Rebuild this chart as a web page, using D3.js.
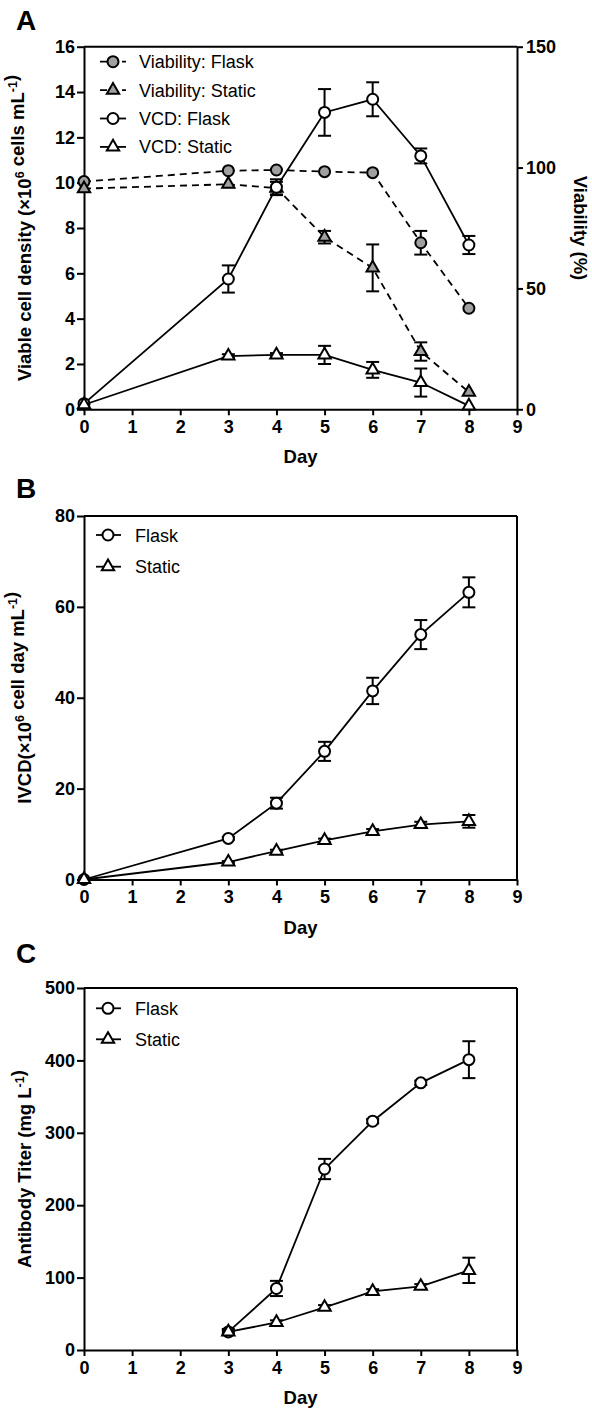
<!DOCTYPE html>
<html>
<head>
<meta charset="utf-8">
<script src="https://cdn.jsdelivr.net/npm/d3@7"></script>
<style>
  body { margin: 0; background: #fff; }
  svg text { font-family: "Liberation Sans", Arial, sans-serif; }
</style>
</head>
<body>
<svg id="fig" width="592" height="1410"></svg>
<script>
// ---- data ----
const days = [0, 3, 4, 5, 6, 7, 8];
const dayTicks = [0, 1, 2, 3, 4, 5, 6, 7, 8, 9];

// Panel A: viable cell density (x10^6 cells/mL) and viability (%)
const vcdFlask = [0.25, 5.75, 9.8, 13.1, 13.68, 11.18, 7.25];
const vcdFlaskErr = [0, 0.6, 0.35, 1.03, 0.75, 0.33, 0.4];
const vcdStatic = [0.2, 2.35, 2.4, 2.4, 1.74, 1.18, 0.15];
const vcdStaticErr = [0, 0.08, 0.08, 0.4, 0.35, 0.62, 0];
const viaFlask = [94.2, 98.7, 99.0, 98.3, 97.9, 68.9, 41.8];
const viaFlaskErr = [0, 0, 0, 0, 0, 4.9, 0];
const viaStatic = [91.3, 93.1, 91.5, 71.2, 58.5, 23.9, 7.1];
const viaStaticErr = [0, 0, 2.6, 2.6, 9.7, 3.8, 0];
const vcdTicks = [0, 2, 4, 6, 8, 10, 12, 14, 16];
const viaTicks = [0, 50, 100, 150];

// Panel B: integral of viable cell density
const ivcdFlask = [0, 9.05, 16.8, 28.2, 41.5, 53.9, 63.2];
const ivcdFlaskErr = [0, 0.3, 1.2, 2.1, 2.9, 3.2, 3.3];
const ivcdStatic = [0, 3.85, 6.25, 8.6, 10.6, 12.1, 12.8];
const ivcdStaticErr = [0, 0.2, 0.3, 0.4, 0.5, 0.6, 1.4];
const ivcdTicks = [0, 20, 40, 60, 80];

// Panel C: antibody titer (mg/L), measured from day 3
const titerDays = [3, 4, 5, 6, 7, 8];
const titerFlask = [25, 85, 250, 316, 369, 401];
const titerFlaskErr = [4, 10.5, 14, 3, 3, 25.5];
const titerStatic = [25, 38, 59, 81, 88, 110];
const titerStaticErr = [2, 3, 3, 3, 3, 17.5];
const titerTicks = [0, 100, 200, 300, 400, 500];

// ---- drawing ----
const svg = d3.select("#fig");
const X0 = 84, X1 = 517;
const x = d3.scaleLinear().domain([0, 9]).range([X0, X1]);
const GREY = "#a0a0a0";
const TICK_FONT = "18px";
const TITLE_FONT = "18.5px";

const circleSym = d3.symbol().type(d3.symbolCircle).size(Math.PI * 5.5 * 5.5);
const triSym = d3.symbol().type(d3.symbolTriangle).size(66);

function styleAxis(g) {
  g.select(".domain").attr("stroke", "#000").attr("stroke-width", 2);
  g.selectAll(".tick line").attr("stroke", "#000").attr("stroke-width", 2);
  g.selectAll(".tick text")
    .attr("fill", "#000")
    .style("font-size", TICK_FONT)
    .style("font-weight", "bold");
}

function titleText(sel, parts) {
  parts.forEach(p => {
    if (p.sup) {
      sel.append("tspan").attr("dy", -7).style("font-size", "12.5px").text(p.sup);
      sel.append("tspan").attr("dy", 7).text("");
    } else {
      sel.append("tspan").text(p.t);
    }
  });
}

function drawSeries(g, y, xs, vals, errs, sym, fill, dashed) {
  const pts = xs.map((d, i) => ({ d, v: vals[i], e: errs[i] }));
  const line = d3.line().x(p => x(p.d)).y(p => y(p.v));
  g.append("path")
    .datum(pts)
    .attr("d", line)
    .attr("fill", "none")
    .attr("stroke", "#000")
    .attr("stroke-width", 1.8)
    .attr("stroke-dasharray", dashed ? "7,5" : null);
  // error bars
  const eb = g.append("g").attr("stroke", "#000").attr("stroke-width", 2);
  pts.filter(p => p.e > 0).forEach(p => {
    const cx = x(p.d), yt = y(p.v + p.e), yb = y(p.v - p.e);
    eb.append("line").attr("x1", cx).attr("x2", cx).attr("y1", yt).attr("y2", yb);
    eb.append("line").attr("x1", cx - 6.5).attr("x2", cx + 6.5).attr("y1", yt).attr("y2", yt);
    eb.append("line").attr("x1", cx - 6.5).attr("x2", cx + 6.5).attr("y1", yb).attr("y2", yb);
  });
  // markers
  g.append("g").selectAll("path")
    .data(pts)
    .join("path")
    .attr("d", sym)
    .attr("transform", p => `translate(${x(p.d)},${y(p.v)})`)
    .attr("fill", fill)
    .attr("stroke", "#000")
    .attr("stroke-width", 2);
}

function drawLegend(g, items, mx, lx0, lx1, tx, y0, dy) {
  items.forEach((it, i) => {
    const yy = y0 + i * dy;
    g.append("line")
      .attr("x1", lx0).attr("x2", lx1).attr("y1", yy).attr("y2", yy)
      .attr("stroke", "#000").attr("stroke-width", 1.8)
      .attr("stroke-dasharray", it.dashed ? "7,4" : null);
    g.append("path").attr("d", it.sym)
      .attr("transform", `translate(${mx},${yy})`)
      .attr("fill", it.fill).attr("stroke", "#000").attr("stroke-width", 2);
    g.append("text").attr("x", tx).attr("y", yy + 6.5)
      .style("font-size", "18px").attr("fill", "#000").text(it.label);
  });
}

function panel(opts) {
  const g = svg.append("g");
  const y = d3.scaleLinear().domain(opts.yDomain).range([opts.yBottom, opts.yTop]);

  // panel letter
  g.append("text").attr("x", 16).attr("y", opts.letterY)
    .style("font-size", "28px").style("font-weight", "bold").text(opts.letter);

  // top border
  g.append("line").attr("x1", X0).attr("x2", X1)
    .attr("y1", opts.yTop).attr("y2", opts.yTop)
    .attr("stroke", "#000").attr("stroke-width", 2);

  // right side: either a second axis or a frame line
  if (opts.right) {
    const y2 = d3.scaleLinear().domain(opts.right.domain).range([opts.yBottom, opts.yTop]);
    g.append("g").attr("transform", `translate(${X1},0)`)
      .call(d3.axisRight(y2).tickValues(opts.right.ticks).tickSize(6).tickPadding(3).tickSizeOuter(0))
      .call(styleAxis);
    const rt = g.append("text")
      .attr("transform", `translate(574,${(opts.yTop + opts.yBottom) / 2}) rotate(90)`)
      .attr("text-anchor", "middle")
      .style("font-size", TITLE_FONT).style("font-weight", "bold");
    titleText(rt, opts.right.title);
    opts.right.scale = y2;
  } else {
    g.append("line").attr("x1", X1).attr("x2", X1)
      .attr("y1", opts.yTop).attr("y2", opts.yBottom)
      .attr("stroke", "#000").attr("stroke-width", 2);
  }

  g.append("g").attr("transform", `translate(${X0},0)`)
    .call(d3.axisLeft(y).tickValues(opts.yTicks).tickSize(7).tickPadding(2).tickSizeOuter(0))
    .call(styleAxis);
  g.append("g").attr("transform", `translate(0,${opts.yBottom})`)
    .call(d3.axisBottom(x).tickValues(dayTicks).tickSize(6).tickPadding(5).tickSizeOuter(0))
    .call(styleAxis);

  // axis titles
  g.append("text").attr("x", (X0 + X1) / 2).attr("y", opts.yBottom + 54)
    .attr("text-anchor", "middle")
    .style("font-size", TITLE_FONT).style("font-weight", "bold").text("Day");
  const lt = g.append("text")
    .attr("transform", `translate(31,${(opts.yTop + opts.yBottom) / 2}) rotate(-90)`)
    .attr("text-anchor", "middle")
    .style("font-size", TITLE_FONT).style("font-weight", "bold");
  titleText(lt, opts.yTitle);

  opts.series.forEach(s => {
    const sc = s.right ? opts.right.scale : y;
    drawSeries(g, sc, s.xs, s.vals, s.errs, s.sym, s.fill, s.dashed);
  });

  drawLegend(g, opts.legend, opts.leg.mx, opts.leg.lx0, opts.leg.lx1, opts.leg.tx, opts.leg.y0, opts.leg.dy);
}

// Panel A
panel({
  letter: "A", letterY: 30,
  yTop: 46.7, yBottom: 409.3, yDomain: [0, 16], yTicks: vcdTicks,
  yTitle: [{ t: "Viable cell density (\u00d710" }, { sup: "6" }, { t: " cells mL" }, { sup: "-1" }, { t: ")" }],
  right: { domain: [0, 150], ticks: viaTicks, title: [{ t: "Viability (%)" }] },
  series: [
    { xs: days, vals: viaFlask, errs: viaFlaskErr, sym: circleSym, fill: GREY, dashed: true, right: true },
    { xs: days, vals: viaStatic, errs: viaStaticErr, sym: triSym, fill: GREY, dashed: true, right: true },
    { xs: days, vals: vcdFlask, errs: vcdFlaskErr, sym: circleSym, fill: "#fff", dashed: false },
    { xs: days, vals: vcdStatic, errs: vcdStaticErr, sym: triSym, fill: "#fff", dashed: false }
  ],
  legend: [
    { label: "Viability: Flask", sym: circleSym, fill: GREY, dashed: true },
    { label: "Viability: Static", sym: triSym, fill: GREY, dashed: true },
    { label: "VCD: Flask", sym: circleSym, fill: "#fff", dashed: false },
    { label: "VCD: Static", sym: triSym, fill: "#fff", dashed: false }
  ],
  leg: { mx: 113, lx0: 100, lx1: 126, tx: 139, y0: 61.7, dy: 28.4 }
});

// Panel B
panel({
  letter: "B", letterY: 498,
  yTop: 516, yBottom: 879.5, yDomain: [0, 80], yTicks: ivcdTicks,
  yTitle: [{ t: "IVCD(\u00d710" }, { sup: "6" }, { t: " cell day mL" }, { sup: "-1" }, { t: ")" }],
  series: [
    { xs: days, vals: ivcdFlask, errs: ivcdFlaskErr, sym: circleSym, fill: "#fff" },
    { xs: days, vals: ivcdStatic, errs: ivcdStaticErr, sym: triSym, fill: "#fff" }
  ],
  legend: [
    { label: "Flask", sym: circleSym, fill: "#fff" },
    { label: "Static", sym: triSym, fill: "#fff" }
  ],
  leg: { mx: 108, lx0: 96, lx1: 121, tx: 135, y0: 535, dy: 31.7 }
});

// Panel C
panel({
  letter: "C", letterY: 963,
  yTop: 988, yBottom: 1350, yDomain: [0, 500], yTicks: titerTicks,
  yTitle: [{ t: "Antibody Titer (mg L" }, { sup: "-1" }, { t: ")" }],
  series: [
    { xs: titerDays, vals: titerFlask, errs: titerFlaskErr, sym: circleSym, fill: "#fff" },
    { xs: titerDays, vals: titerStatic, errs: titerStaticErr, sym: triSym, fill: "#fff" }
  ],
  legend: [
    { label: "Flask", sym: circleSym, fill: "#fff" },
    { label: "Static", sym: triSym, fill: "#fff" }
  ],
  leg: { mx: 108, lx0: 96, lx1: 121, tx: 135, y0: 1008.3, dy: 31 }
});
</script>
</body>
</html>
